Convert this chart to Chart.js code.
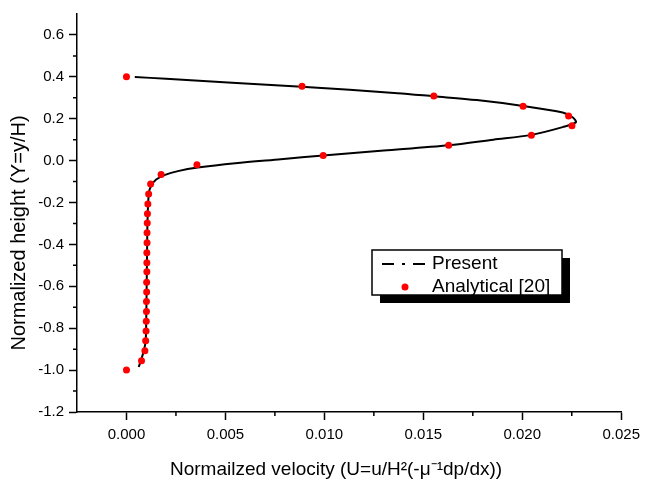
<!DOCTYPE html>
<html>
<head>
<meta charset="utf-8">
<script src="https://cdn.jsdelivr.net/npm/chart.js@4/dist/chart.umd.min.js"></script>
<style>
  html, body { margin: 0; padding: 0; background: #fff; }
  #wrap { width: 646px; height: 482px; }
</style>
</head>
<body>
<div id="wrap"><canvas id="profile-chart" width="646" height="482"></canvas></div>
<script>
// Present (numerical) velocity profile, bottom wall to top wall
const presentU = [0.00062, 0.00072, 0.00087, 0.00097, 0.00100, 0.00102, 0.00104, 0.00106,
    0.00113, 0.00125, 0.00150, 0.00195, 0.00260, 0.00360, 0.00550, 0.00780, 0.00994,
    0.01300, 0.01628, 0.01854, 0.02046, 0.02204, 0.02271, 0.02254, 0.02204, 0.02004,
    0.01770, 0.01553, 0.01370, 0.00885, 0.00534, 0.00200, 0.00042];
const presentY = [-0.985, -0.957, -0.910, -0.860, -0.750, -0.600, -0.450, -0.300,
    -0.155, -0.120, -0.090, -0.068, -0.050, -0.033, -0.012, 0.007, 0.025,
    0.048, 0.073, 0.100, 0.123, 0.160, 0.183, 0.207, 0.230, 0.261,
    0.289, 0.307, 0.322, 0.353, 0.372, 0.391, 0.399];

// Analytical [20] points, top wall to bottom wall
const analyticalU = [0.0, 0.00887, 0.01553, 0.02004, 0.02234, 0.02251, 0.02046, 0.01628,
    0.00994, 0.00356, 0.00175, 0.00122, 0.00112, 0.00108, 0.00106, 0.00105, 0.00104,
    0.00104, 0.00103, 0.00103, 0.00103, 0.00102, 0.00102, 0.00101, 0.00101, 0.00100,
    0.00099, 0.00097, 0.00093, 0.00076, 0.0];
const analyticalY = [0.400, 0.355, 0.308, 0.260, 0.213, 0.166, 0.121, 0.073,
    0.025, -0.020, -0.066, -0.112, -0.159, -0.207, -0.254, -0.298, -0.344,
    -0.392, -0.440, -0.487, -0.530, -0.580, -0.627, -0.673, -0.720, -0.767,
    -0.813, -0.860, -0.908, -0.955, -1.000];

// Axis ticks
const xTicks = [0.000, 0.005, 0.010, 0.015, 0.020, 0.025];
const xMinorTicks = [0.0025, 0.0075, 0.0125, 0.0175, 0.0225];
const yTicks = [-1.2, -1.0, -0.8, -0.6, -0.4, -0.2, 0.0, 0.2, 0.4, 0.6];
const yMinorTicks = [-1.1, -0.9, -0.7, -0.5, -0.3, -0.1, 0.1, 0.3, 0.5];

const legendLabels = ['Present', 'Analytical [20]'];
const xTitle = 'Normailzed velocity (U=u/H\u00b2(-\u03bc\u207b\u00b9dp/dx))';
const yTitle = 'Normalized height (Y=y/H)';

const FONT = 'Liberation Sans, Arial, sans-serif';

document.addEventListener('DOMContentLoaded', function() {
    initProfileChart();
});

/**
 * Build {x, y} pairs from two arrays
 */
function toPoints(xs, ys) {
    return xs.map((x, i) => ({ x: x, y: ys[i] }));
}

/**
 * Short outward ticks between the labelled ones
 */
const minorTicksPlugin = {
    id: 'minorTicks',
    afterDraw(chart) {
        const ctx = chart.ctx;
        const xs = chart.scales.x;
        const ys = chart.scales.y;
        ctx.save();
        ctx.strokeStyle = '#000';
        ctx.lineWidth = 1.5;
        ctx.beginPath();
        xMinorTicks.forEach(v => {
            const px = xs.getPixelForValue(v);
            ctx.moveTo(px, xs.top);
            ctx.lineTo(px, xs.top + 4);
        });
        yMinorTicks.forEach(v => {
            const py = ys.getPixelForValue(v);
            ctx.moveTo(ys.right, py);
            ctx.lineTo(ys.right - 4, py);
        });
        ctx.stroke();
        ctx.restore();
    }
};

/**
 * Axis titles, placed where the original figure has them
 */
const axisTitlesPlugin = {
    id: 'axisTitles',
    afterDraw(chart) {
        const ctx = chart.ctx;
        ctx.save();
        ctx.fillStyle = '#000';
        ctx.font = '19px ' + FONT;
        ctx.textBaseline = 'alphabetic';
        ctx.textAlign = 'left';
        ctx.fillText(xTitle, 170, 475);

        ctx.font = '20px ' + FONT;
        ctx.translate(25, 233);
        ctx.rotate(-Math.PI / 2);
        ctx.textAlign = 'center';
        ctx.fillText(yTitle, 0, 0);
        ctx.restore();
    }
};

/**
 * Boxed legend with a drop shadow, as in the original figure
 */
const boxLegendPlugin = {
    id: 'boxLegend',
    afterDraw(chart) {
        const ctx = chart.ctx;
        const left = 372, top = 250, w = 190, h = 45, shadow = 8;
        ctx.save();
        ctx.fillStyle = '#000';
        ctx.fillRect(left + shadow, top + shadow, w, h);
        ctx.fillStyle = '#fff';
        ctx.fillRect(left, top, w, h);
        ctx.strokeStyle = '#000';
        ctx.lineWidth = 1.5;
        ctx.strokeRect(left, top, w, h);

        // dash-dot sample
        ctx.lineWidth = 2;
        ctx.setLineDash([12, 8, 3, 8]);
        ctx.beginPath();
        ctx.moveTo(382, 264);
        ctx.lineTo(425, 264);
        ctx.stroke();
        ctx.setLineDash([]);

        ctx.fillStyle = '#ff0000';
        ctx.beginPath();
        ctx.arc(405, 287, 3.5, 0, Math.PI * 2);
        ctx.fill();

        ctx.fillStyle = '#000';
        ctx.font = '19px ' + FONT;
        ctx.textBaseline = 'middle';
        ctx.fillText(legendLabels[0], 432, 264);
        ctx.fillText(legendLabels[1], 432, 287);
        ctx.restore();
    }
};

function initProfileChart() {
    const canvas = document.getElementById('profile-chart');
    new Chart(canvas, {
        type: 'scatter',
        data: {
            datasets: [
                {
                    label: legendLabels[1],
                    data: toPoints(analyticalU, analyticalY),
                    backgroundColor: '#ff0000',
                    borderWidth: 0,
                    pointRadius: 3.5,
                    order: 0
                },
                {
                    label: legendLabels[0],
                    data: toPoints(presentU, presentY),
                    showLine: true,
                    borderColor: '#000',
                    borderWidth: 2,
                    tension: 0.3,
                    pointRadius: 0,
                    order: 1
                }
            ]
        },
        options: {
            responsive: false,
            animation: false,
            layout: {
                padding: { top: 9, right: 20, left: 0, bottom: 0 }
            },
            plugins: {
                legend: { display: false },
                tooltip: { enabled: false }
            },
            scales: {
                x: {
                    type: 'linear',
                    min: -0.0025,
                    max: 0.025,
                    afterFit: function(scale) { scale.height = 70; },
                    afterBuildTicks: function(scale) {
                        scale.ticks = xTicks.map(v => ({ value: v }));
                    },
                    grid: {
                        drawOnChartArea: false,
                        tickLength: 8,
                        tickWidth: 1.5,
                        tickColor: '#000'
                    },
                    border: { color: '#000', width: 1.5 },
                    ticks: {
                        color: '#000',
                        padding: 6,
                        maxRotation: 0,
                        font: { family: FONT, size: 15 },
                        callback: function(value) { return value.toFixed(3); }
                    }
                },
                y: {
                    type: 'linear',
                    min: -1.2,
                    max: 0.7,
                    afterFit: function(scale) { scale.width = 77; },
                    afterBuildTicks: function(scale) {
                        scale.ticks = yTicks.map(v => ({ value: v }));
                    },
                    grid: {
                        drawOnChartArea: false,
                        tickLength: 8,
                        tickWidth: 1.5,
                        tickColor: '#000'
                    },
                    border: { color: '#000', width: 1.5 },
                    ticks: {
                        color: '#000',
                        padding: 5,
                        font: { family: FONT, size: 15 },
                        callback: function(value) { return value.toFixed(1); }
                    }
                }
            }
        },
        plugins: [minorTicksPlugin, axisTitlesPlugin, boxLegendPlugin]
    });
}
</script>
</body>
</html>
